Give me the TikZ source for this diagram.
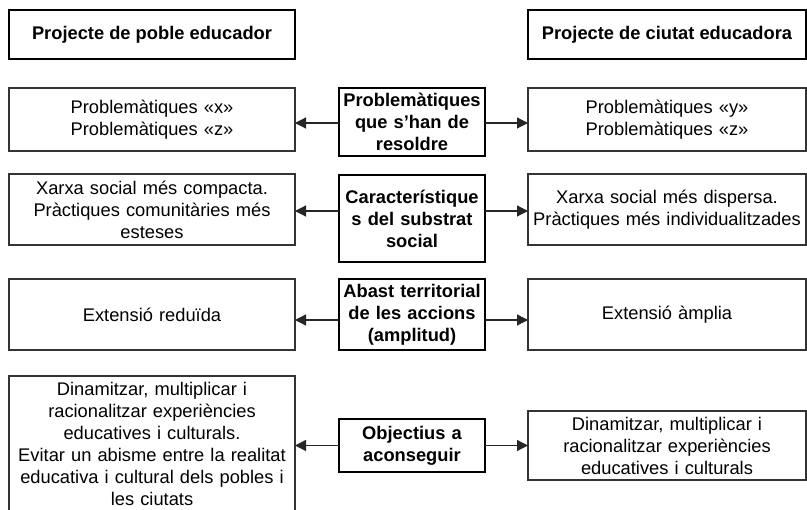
\documentclass[tikz,border=0pt]{standalone}
\usepackage{fontspec}
\setmainfont{Liberation Sans}
\usetikzlibrary{arrows.meta, positioning}
\newcommand{\boxfont}{\fontsize{18.3}{22}\selectfont}

\begin{document}
\begin{tikzpicture}[
    x=1pt, y=-1pt,
    every node/.style={outer sep=0pt, inner sep=0pt},
    head/.style={rectangle, draw=black, line width=1.8pt, minimum height=49pt, font=\boxfont\bfseries},
    topic/.style={rectangle, draw=black, line width=1.8pt, text width=146pt, align=center, font=\boxfont\bfseries},
    side/.style={rectangle, draw=black!80, line width=1.1pt, text width=270pt, align=center, font=\boxfont},
    arrow/.style={line width=1.2pt, draw=black!85, -{Triangle[length=11pt, width=11pt]}}
]
\path[use as bounding box, fill=white] (0,0) rectangle (807,510);

% Central column
\node[topic, minimum height=68pt] (prob) at (412,122) {Problemàtiques\\que s’han de\\resoldre};
\node[topic, minimum height=87pt] (subst) at (412,218.5) {Característique\\s del substrat\\social};
\node[topic, minimum height=71pt] (abast) at (412,314.5) {Abast territorial\\de les accions\\(amplitud)};
\node[topic, minimum height=53pt] (obj) at (412,445.5) {Objectius a\\aconseguir};

% Left column (poble)
\node[side, minimum width=286pt, minimum height=63pt, left=44pt of prob, yshift=2.5pt] (probL) {Problemàtiques «x»\\Problemàtiques «z»};
\node[side, minimum width=286pt, minimum height=71pt, left=44pt of subst, yshift=9pt] (substL) {Xarxa social més compacta.\\Pràctiques comunitàries més\\esteses};
\node[side, minimum width=286pt, minimum height=71pt, left=44pt of abast] (abastL) {Extensió reduïda};
\node[side, minimum width=286pt, minimum height=136pt, left=44pt of obj, yshift=1.5pt] (objL) {Dinamitzar, multiplicar i\\racionalitzar experiències\\educatives i culturals.\\Evitar un abisme entre la realitat\\educativa i cultural dels pobles i\\les ciutats};

% Right column (ciutat)
\node[side, minimum width=278pt, minimum height=63pt, right=43pt of prob, yshift=2.5pt] (probR) {Problemàtiques «y»\\Problemàtiques «z»};
\node[side, minimum width=278pt, minimum height=71pt, right=43pt of subst, yshift=9pt] (substR) {Xarxa social més dispersa.\\Pràctiques més individualitzades};
\node[side, minimum width=278pt, minimum height=71pt, right=43pt of abast] (abastR) {Extensió àmplia};
\node[side, minimum width=278pt, minimum height=69pt, right=43pt of obj] (objR) {Dinamitzar, multiplicar i\\racionalitzar experiències\\educatives i culturals};

% Headers
\node[head, minimum width=286pt, above=29pt of probL] (pobleH) {Projecte de poble educador};
\node[head, minimum width=278pt, above=29pt of probR] (ciutatH) {Projecte de ciutat educadora};

% Arrows
\draw[arrow] ([yshift=-1pt]prob.west) -- ([yshift=-1pt]prob.west -| probL.east);
\draw[arrow] ([yshift=-1pt]prob.east) -- ([yshift=-1pt]prob.east -| probR.west);
\draw[arrow] ([yshift=7.5pt]subst.west) -- ([yshift=7.5pt]subst.west -| substL.east);
\draw[arrow] ([yshift=7.5pt]subst.east) -- ([yshift=7.5pt]subst.east -| substR.west);
\draw[arrow] ([yshift=-5.5pt]abast.west) -- ([yshift=-5.5pt]abast.west -| abastL.east);
\draw[arrow] ([yshift=-5.5pt]abast.east) -- ([yshift=-5.5pt]abast.east -| abastR.west);
\draw[arrow] (obj.west) -- (obj.west -| objL.east);
\draw[arrow] (obj.east) -- (obj.east -| objR.west);

\end{tikzpicture}
\end{document}
